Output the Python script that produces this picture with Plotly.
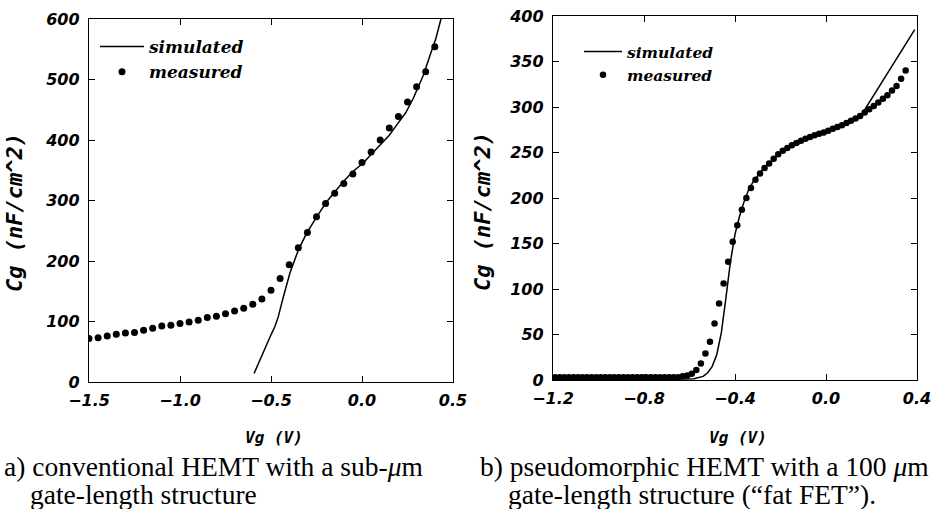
import plotly.graph_objects as go

# ---------------- data: panel a (conventional HEMT) ----------------
a_meas_vg = [-1.50, -1.45, -1.40, -1.35, -1.30, -1.25, -1.20, -1.15, -1.10, -1.05,
             -1.00, -0.95, -0.90, -0.85, -0.80, -0.75, -0.70, -0.65, -0.60, -0.55,
             -0.50, -0.45, -0.40, -0.35, -0.30, -0.25, -0.20, -0.15, -0.10, -0.05,
             0.00, 0.05, 0.10, 0.15, 0.20, 0.25, 0.30, 0.35, 0.40]
a_meas_cg = [72, 73, 76, 79, 81, 82, 85.5, 89, 92.5, 94,
             96.5, 99, 102, 106.5, 108.5, 113, 117.5, 122, 128.5, 137,
             151.5, 171, 194, 222, 247, 273, 295, 312, 328, 344,
             363, 380, 400, 420, 439, 463, 488, 513, 554]

a_sim_vg = [-0.593, -0.55, -0.50, -0.478, -0.46, -0.432, -0.396, -0.35, -0.304, -0.249,
            -0.194, -0.15, -0.103, -0.05, 0.007, 0.05, 0.099, 0.15, 0.191, 0.24,
            0.282, 0.337, 0.374, 0.405, 0.434]
a_sim_cg = [14, 45, 78, 92, 108, 141, 180, 218, 246, 273,
            298, 314, 331, 348, 362, 376, 391, 408, 425, 445,
            469, 507, 540, 567, 600]

# ---------------- data: panel b (pseudomorphic HEMT, fat FET) ----------------
b_meas_vg = [-1.19, -1.17, -1.15, -1.13, -1.11, -1.09, -1.07, -1.05, -1.03, -1.01,
             -0.99, -0.97, -0.95, -0.93, -0.91, -0.89, -0.87, -0.85, -0.83, -0.81,
             -0.79, -0.77, -0.75, -0.73, -0.71, -0.69, -0.67, -0.65, -0.63, -0.61,
             -0.59, -0.57, -0.55, -0.53, -0.51, -0.49, -0.47, -0.45, -0.43, -0.41,
             -0.39, -0.37, -0.35, -0.33, -0.31, -0.29, -0.27, -0.25, -0.23, -0.21,
             -0.19, -0.17, -0.15, -0.13, -0.11, -0.09, -0.07, -0.05, -0.03, -0.01,
             0.01, 0.03, 0.05, 0.07, 0.09, 0.11, 0.13, 0.15, 0.17, 0.19,
             0.21, 0.23, 0.25, 0.27, 0.29, 0.31, 0.33, 0.35]
b_meas_cg = [3, 3, 3, 3, 3, 3, 3, 3, 3, 3,
             3, 3, 3, 3, 3, 3, 3, 3, 3, 3,
             3, 3, 3, 3, 3, 3, 3, 3, 4, 5,
             7, 11, 18, 29, 42, 62, 84, 106, 130, 152,
             170, 187, 200, 211, 220, 227, 233, 238, 243, 248,
             252, 255, 258, 260.5, 263, 265, 267, 269, 270.5, 272,
             274, 276, 278, 280, 282.5, 285, 287.5, 290, 294, 297.5,
             301, 305, 309, 313, 318, 323, 331, 340]

b_sim_vg = [-1.20, -0.70, -0.62, -0.58, -0.54, -0.52, -0.50, -0.48, -0.46, -0.44,
            -0.42, -0.40, -0.38, -0.36, -0.34, -0.32, -0.30, -0.28, -0.26, -0.24,
            -0.22, -0.20, -0.16, -0.12, -0.08, -0.04, 0.00, 0.04, 0.08, 0.12,
            0.16, 0.20, 0.24, 0.28, 0.32, 0.36, 0.39]
b_sim_cg = [0.5, 0.5, 1, 1.5, 4, 8, 15, 28, 52, 90,
            130, 160, 180, 196, 209, 218, 225, 231, 236, 241,
            245.5, 250, 256, 261, 266, 270, 273, 277, 281.5, 286,
            293, 309, 325, 341, 357, 373, 385]

# tick labels / text
a_xticks = [-1.5, -1.0, -0.5, 0.0, 0.5]
a_yticks = [0, 100, 200, 300, 400, 500, 600]
b_xticks = [-1.2, -0.8, -0.4, 0.0, 0.4]
b_yticks = [0, 50, 100, 150, 200, 250, 300, 350, 400]
x_title = "Vg (V)"
y_title = "Cg (nF/cm^2)"
caption_a = ["a) conventional HEMT with a sub-<i>μ</i>m", "gate-length structure"]
caption_b = ["b) pseudomorphic HEMT with a 100 <i>μ</i>m", "gate-length structure (“fat FET”)."]

W, H = 938, 509
def px(x):
    return x / W
def py(y):
    return 1 - y / H

fig = go.Figure()
fig.add_trace(go.Scatter(x=a_sim_vg, y=a_sim_cg, mode="lines", name="simulated",
                         line=dict(color="black", width=1.5), xaxis="x", yaxis="y",
                         legend="legend"))
fig.add_trace(go.Scatter(x=a_meas_vg, y=a_meas_cg, mode="markers", name="measured",
                         marker=dict(color="black", size=7), xaxis="x", yaxis="y",
                         legend="legend"))
fig.add_trace(go.Scatter(x=b_sim_vg, y=b_sim_cg, mode="lines", name="simulated",
                         line=dict(color="black", width=1.5), xaxis="x2", yaxis="y2",
                         legend="legend2"))
fig.add_trace(go.Scatter(x=b_meas_vg, y=b_meas_cg, mode="markers", name="measured",
                         marker=dict(color="black", size=6.5), xaxis="x2", yaxis="y2",
                         legend="legend2"))

tickfont = dict(family="DejaVu Sans", size=16, color="black", weight="bold", style="italic")
axcommon = dict(showline=True, linecolor="black", linewidth=1.3, mirror="ticks",
                ticks="inside", ticklen=6, tickwidth=1.3, tickcolor="black",
                showgrid=False, zeroline=False, tickfont=tickfont, tickformat=".1f")

fig.update_layout(
    width=W, height=H, margin=dict(l=0, r=0, t=0, b=0, autoexpand=False),
    paper_bgcolor="white", plot_bgcolor="white",
    xaxis=dict(axcommon, domain=[px(89), px(453)], range=[-1.5, 0.5],
               tickvals=a_xticks, anchor="y", ticklabelstandoff=4),
    yaxis=dict(axcommon, domain=[py(382), py(19)], range=[0, 600],
               tickvals=a_yticks, tickformat="d", anchor="x", ticklabelstandoff=5),
    xaxis2=dict(axcommon, domain=[px(553), px(917)], range=[-1.2, 0.4],
                tickvals=b_xticks, anchor="y2", ticklabelstandoff=4),
    yaxis2=dict(axcommon, domain=[py(380), py(16)], range=[0, 400],
                tickvals=b_yticks, tickformat="d", anchor="x2", ticklabelstandoff=5),
    legend=dict(x=px(95), y=py(29), xanchor="left", yanchor="top",
                bgcolor="rgba(0,0,0,0)", tracegroupgap=0, itemwidth=44,
                font=dict(family="DejaVu Serif", size=17, color="black",
                          weight="bold", style="italic")),
    legend2=dict(x=px(579), y=py(35), xanchor="left", yanchor="top",
                 bgcolor="rgba(0,0,0,0)", tracegroupgap=0, itemwidth=38,
                 font=dict(family="DejaVu Serif", size=15.5, color="black",
                           weight="bold", style="italic")),
)

titlefont_x = dict(family="DejaVu Sans Mono", size=16, color="black", weight="bold", style="italic")
titlefont_y = dict(family="DejaVu Sans Mono", size=22, color="black", weight="bold", style="italic")
capfont = dict(family="Liberation Serif", size=27.5, color="black")

ann = [
    dict(text=x_title, x=px(274), y=py(437), font=titlefont_x),
    dict(text=x_title, x=px(738), y=py(437), font=titlefont_x),
    dict(text=y_title, x=px(14), y=py(213), font=titlefont_y, textangle=-90),
    dict(text=y_title, x=px(482), y=py(211), font=titlefont_y, textangle=-90),
    dict(text=caption_a[0], x=px(2), y=py(466), font=capfont, xanchor="left"),
    dict(text=caption_a[1], x=px(28), y=py(494), font=capfont, xanchor="left"),
    dict(text=caption_b[0], x=px(478), y=py(466), font=capfont, xanchor="left"),
    dict(text=caption_b[1], x=px(506), y=py(494), font=capfont, xanchor="left"),
]
for a in ann:
    a.setdefault("xanchor", "center")
    fig.add_annotation(xref="paper", yref="paper", showarrow=False, yanchor="middle", **a)

fig.write_html("out.html", config={"displayModeBar": False},
               post_script="document.body.style.margin='0';document.body.style.padding='0';")
